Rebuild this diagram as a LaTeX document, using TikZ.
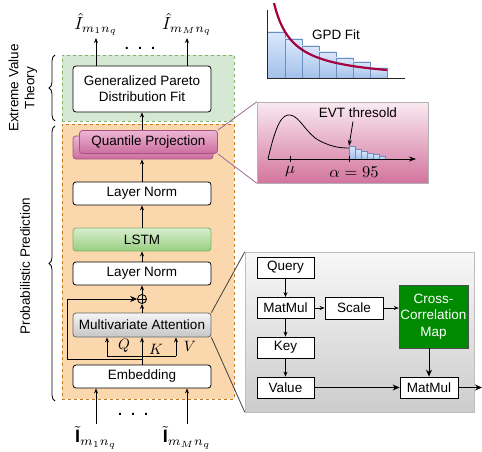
\documentclass[tikz,border=0pt]{standalone}
\usepackage{fontspec}
\setmainfont{Liberation Sans}
\usepackage{amsmath}
\usepackage{graphicx}
\usepackage{xcolor}
\usetikzlibrary{positioning, arrows.meta, calc, decorations.pathreplacing}

\definecolor{zoneorange}{HTML}{FAD7AC}
\definecolor{zoneorangeline}{HTML}{C47A1A}
\definecolor{zonegreen}{HTML}{D5E8D4}
\definecolor{zonegreenline}{HTML}{82B366}
\definecolor{quanttop}{HTML}{EDB6D3}
\definecolor{quantbot}{HTML}{CC6E9F}
\definecolor{quantline}{HTML}{A85482}
\definecolor{lstmtop}{HTML}{D8EDCF}
\definecolor{lstmbot}{HTML}{98CF80}
\definecolor{lstmline}{HTML}{82B366}
\definecolor{barbluetop}{HTML}{DAE8FC}
\definecolor{barblue}{HTML}{A3C0EA}
\definecolor{barline}{HTML}{6C8EBF}
\definecolor{gpdred}{HTML}{A50040}
\definecolor{pinktop}{HTML}{FAEAF1}
\definecolor{pinkbot}{HTML}{D3749E}
\definecolor{corrgreen}{HTML}{008A00}
\definecolor{linkpurple}{HTML}{9E6B95}

\newcommand{\mathlabel}[2]{{\normalsize\scalebox{#1}{$#2$}}}

\begin{document}
\begin{tikzpicture}[x=1pt, y=-1pt, font=\fontsize{13.5}{16}\selectfont,
  zone/.style={dashed, line width=0.8pt, preaction={draw=white, solid, line width=0.8pt}},
  layer/.style={draw, rounded corners=3pt, fill=white, minimum width=138pt, minimum height=23pt, inner sep=1pt, line width=0.8pt},
  quantbox/.style={layer, draw=quantline, top color=quanttop, bottom color=quantbot},
  lstmbox/.style={layer, draw=lstmline, top color=lstmtop, bottom color=lstmbot},
  attbox/.style={layer, draw=gray!80!black, top color=gray!8, bottom color=gray!45},
  opbox/.style={draw, fill=white, minimum width=57pt, minimum height=21pt, inner sep=1pt, line width=0.8pt},
  arr/.style={-{Stealth[length=5pt, width=4pt]}, line width=0.8pt},
  bigarr/.style={-{Stealth[length=7pt, width=6pt]}, line width=0.8pt},
  bar/.style={draw=barline, top color=barbluetop, bottom color=barblue},
  brace/.style={decorate, decoration={brace, amplitude=6pt}, line width=0.8pt},
  dotrow/.style={font=\bfseries\Large}]

\useasboundingbox (0,0) rectangle (482,452);

% Zones
\node[zone, draw=zonegreenline, fill=zonegreen, minimum width=172pt, minimum height=66pt] (evtzone) at (148,88) {};
\node[zone, draw=zoneorangeline, fill=zoneorange, minimum width=172pt, minimum height=275pt] (probzone) at (148,261.5) {};

% Braces
\draw[brace] (55,121) -- (55,55);
\draw[brace] (55,401) -- (55,126);
\node[rotate=90, align=center] (evtlabel) at (23,88) {Extreme Value\\Theory};
\node[rotate=90] (problabel) at (25,266) {Probabilistic Prediction};

% Layers
\node[layer, minimum height=46pt, align=center] (gpd) at (142,89) {Generalized Pareto\\Distribution Fit};
\node[quantbox, minimum width=140pt] (quantback) at (143,147.5) {};
\node[quantbox] (quant) at (148.5,142) {Quantile Projection};
\node[layer] (ln1) at (142,193.5) {Layer Norm};
\node[lstmbox] (lstm) at (142,239.5) {LSTM};
\node[layer] (ln2) at (142,273.5) {Layer Norm};
\node[draw, circle, inner sep=0pt, minimum size=9pt, line width=0.8pt] (plus) at (142,299) {};
\draw[line width=0.8pt] (plus.north) -- (plus.south) (plus.west) -- (plus.east);
\node[attbox, minimum height=24pt] (att) at (142,325) {Multivariate Attention};
\node[layer] (emb) at (142,376.5) {Embedding};

% Arrows
\draw[arr] (emb.north) -- (att.south);
\draw[arr] (att.north) -- (plus.south);
\draw[arr] (plus.north) -- (ln2.south);
\draw[arr] (ln2.north) -- (lstm.south);
\draw[arr] (lstm.north) -- (ln1.south);
\draw[arr] (ln1.north) -- (quantback.south -| ln1.north);
\draw[arr] (quant.north -| gpd.south) -- (gpd.south);

% Q, K, V and residual
\coordinate (qbar) at (107,356);
\coordinate (vbar) at (176,356);
\coordinate (resl) at (67,359);
\draw[line width=0.8pt] (qbar) -- (vbar);
\draw[arr] (qbar) -- (qbar |- att.south);
\draw[arr] (vbar) -- (vbar |- att.south);
\draw[bigarr] (emb.north |- resl) -- (resl) |- (plus.west);
\node (qlab) at (124,346) {\mathlabel{1.5}{Q}};
\node (klab) at (156,349) {\mathlabel{1.5}{K}};
\node (vlab) at (190,346) {\mathlabel{1.5}{V}};

% Outputs
\coordinate (out1) at (96,38);
\coordinate (outM) at (187,38);
\draw[arr] (out1 |- gpd.north) -- (out1) node[above, inner sep=2pt] {\mathlabel{1.75}{\hat{I}_{m_1 n_q}}};
\draw[arr] (outM |- gpd.north) -- (outM) node[above, inner sep=2pt] {\mathlabel{1.75}{\hat{I}_{m_M n_q}}};
\node[dotrow] (topdots) at (140,48) {.\hspace{9pt}.\hspace{9pt}.};

% Inputs
\coordinate (in1) at (96,424);
\coordinate (inM) at (187,424);
\draw[arr] (in1) -- (in1 |- emb.south);
\draw[arr] (inM) -- (inM |- emb.south);
\node[below, inner sep=2pt] (in1lab) at (in1) {\mathlabel{1.8}{\tilde{\mathbf{I}}_{m_1 n_q}}};
\node[below, inner sep=2pt] (inMlab) at (inM) {\mathlabel{1.8}{\tilde{\mathbf{I}}_{m_M n_q}}};
\node[dotrow] (botdots) at (133,414) {.\hspace{9pt}.\hspace{9pt}.};

% GPD fit plot
\foreach \xl/\xr/\ytop in {267/285/32, 285/302/39, 302/319/46, 319/336/52, 336/353/58, 353/370/62, 370/387/68}
  \draw[bar] (\xl,78) rectangle (\xr,\ytop);
\draw[line width=0.8pt, gray!30!black] (267,10) -- (267,78) -- (405,78);
\draw[gpdred, line width=2.2pt, domain=274:387, samples=60] plot (\x,{81.25-1485/(\x-255)});
\node (gpdlab) at (336,35) {GPD Fit};

% EVT threshold plot
\node[draw=gray!60, top color=pinktop, bottom color=pinkbot, minimum width=171pt, minimum height=81pt] (evtplot) at (342.5,142.5) {};
\foreach \xl/\ytop in {349/146, 355/149, 361/151, 367/153, 373/154, 379/156}
  \draw[bar] (\xl,159) rectangle ++(6,\ytop-159);
\draw[line width=0.8pt] (268,159) .. controls (276,124) and (282,114) .. (290,115)
  .. controls (300,116) and (306,134) .. (320,141) .. controls (332,147) and (340,148) .. (349,148);
\draw[-{Stealth[length=7pt, width=5pt]}, line width=0.8pt] (268,159) -- (416,159);
\draw[line width=0.8pt] (290,156) -- (290,162);
\draw[line width=0.8pt] (349,156) -- (349,162);
\node (mulab) at (290,172) {\mathlabel{1.65}{\mu}};
\node (alab) at (354,172) {\mathlabel{1.65}{\alpha=95}};
\node (thrlab) at (358,113) {EVT thresold};
\coordinate (thrtip) at (349,146);
\draw[-{Stealth[length=6pt, width=4pt]}, line width=0.8pt] (thrlab.south -| 353,0) -- (thrtip);
\draw[linkpurple, line width=0.8pt] (quant.north east) -- (evtplot.north west);
\draw[linkpurple, line width=0.8pt] (quant.south east) -- (evtplot.south west);

% Attention detail
\node[draw=gray!50, top color=gray!6, bottom color=gray!40, minimum width=229pt, minimum height=160pt] (attzoom) at (359.5,332) {};
\draw[gray!50!black, line width=0.8pt] (att.north east) -- (attzoom.north west);
\draw[gray!50!black, line width=0.8pt] (att.south east) -- (attzoom.south west);
\node[opbox] (query) at (285.5,267.5) {Query};
\node[opbox] (matmul) at (285.5,308) {MatMul};
\node[opbox] (key) at (285.5,347.5) {Key};
\node[opbox] (value) at (285.5,387.5) {Value};
\node[opbox, minimum width=58pt, minimum height=22pt] (scale) at (354,308) {Scale};
\node[draw=gray!60!black, fill=corrgreen, text=white, minimum width=69pt, minimum height=63pt, inner sep=0pt, align=center, font=\fontsize{13.5}{16.5}\selectfont] (corr) at (433.5,316.5) {Cross-\\Correlation\\Map};
\node[opbox, minimum width=58pt] (matmul2) at (429,387.5) {MatMul};
\coordinate (attout) at (482,387.5);

\draw[arr] (query) -- (matmul);
\draw[arr] (matmul) -- (key);
\draw[arr] (key) -- (value);
\draw[arr] (matmul) -- (scale);
\draw[arr] (scale) -- (scale -| corr.west);
\draw[bigarr] (corr.south -| matmul2.north) -- (matmul2.north);
\draw[bigarr] (value) -- (matmul2);
\draw[bigarr] (matmul2) -- (attout);

\end{tikzpicture}
\end{document}
